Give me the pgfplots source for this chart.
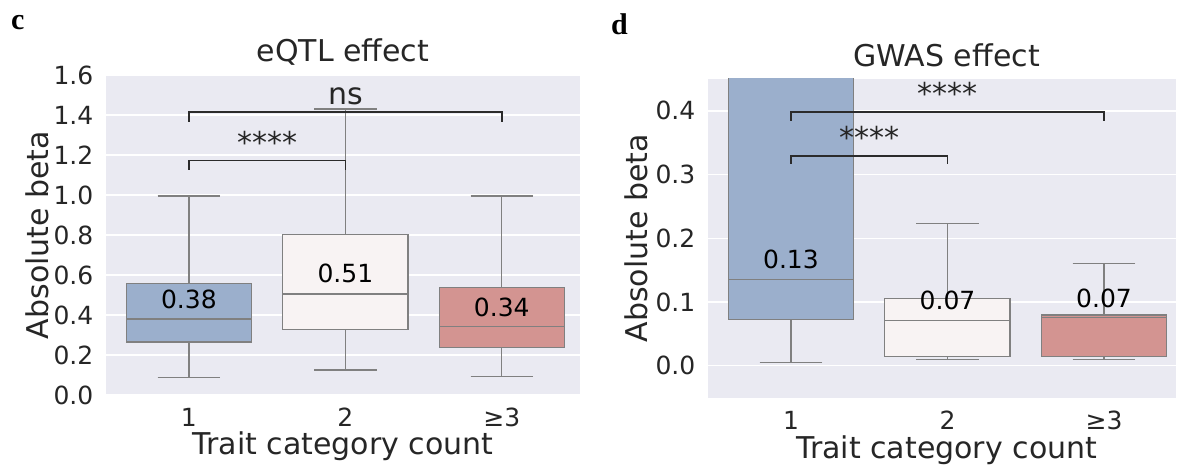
\documentclass[border=0pt]{standalone}
\usepackage{fontspec}
\setmainfont{DejaVu Sans}
\newfontfamily\serifbold{Liberation Serif}
\usepackage{pgfplots}
\usepgfplotslibrary{statistics}
\pgfplotsset{compat=1.18}
\definecolor{bg}{HTML}{EAEAF2}
\definecolor{txt}{HTML}{262626}
\definecolor{bline}{HTML}{808080}
\definecolor{brk}{HTML}{2B2B2B}
\definecolor{cblue}{HTML}{9BAFCC}
\definecolor{cwhite}{HTML}{F8F3F3}
\definecolor{cred}{HTML}{D39491}
\tikzset{
  numlab/.style={font=\fontsize{25}{29}\selectfont, text=black, anchor=center, inner sep=0pt},
  starlab/.style={font=\fontsize{30}{34}\selectfont, text=txt, anchor=base, inner sep=0pt},
}
\pgfplotsset{
  sbstyle/.style={
    scale only axis, anchor=south west,
    axis background/.style={fill=bg},
    axis line style={draw=none},
    major tick length=0pt,
    ymajorgrids, grid style={white, line width=1.3pt},
    xmin=-0.53,
    xtick={0,1,2}, xticklabels={1,2,≥3},
    tick label style={font=\fontsize{25}{29}\selectfont, text=txt},
    yticklabel style={anchor=east, inner sep=0pt, xshift=-12.5pt,
      /pgf/number format/.cd, assume math mode=true, fixed, fixed zerofill, precision=1},
    xticklabel style={anchor=north, inner sep=0pt, text height=18.2pt, yshift=-13pt},
    title style={font=\fontsize{30}{34}\selectfont, text=txt, anchor=base, yshift=7pt},
    label style={font=\fontsize{30}{34}\selectfont, text=txt},
    xlabel={Trait category count},
    ylabel={Absolute beta},
    boxplot/draw direction=y,
  },
  bx/.style={draw=bline, line width=1.2pt, solid},
  bracket/.style={draw=brk, line width=1.6pt, mark=none},
}
\begin{document}
\begin{tikzpicture}
\useasboundingbox (0,0) rectangle (1178pt,465pt);
\node[anchor=base west, inner sep=0pt, font=\serifbold\bfseries\fontsize{30}{34}\selectfont] at (11pt,435.7pt) {c};
\node[anchor=base west, inner sep=0pt, font=\serifbold\bfseries\fontsize{30}{34}\selectfont] at (611pt,430pt) {d};
% ---------------- left panel ----------------
\begin{axis}[sbstyle,
  at={(106pt,70pt)}, width=474pt, height=320pt,
  xmax=2.5, ymin=0, ymax=1.6,
  ytick={0,0.2,0.4,0.6,0.8,1.0,1.2,1.4,1.6},
  title={eQTL effect},
  title style={at={(axis description cs:0.5,1)}},
  xlabel style={at={(axis description cs:0.5,-0.1875)}, anchor=base},
  ylabel style={at={(axis description cs:-0.1456,0.5)}, anchor=center},
]
\addplot[bx, fill=cblue, boxplot prepared={draw direction=y, lower whisker=0.088, lower quartile=0.265, median=0.38, upper quartile=0.5565, upper whisker=0.995, draw position=0, box extend=0.8, whisker extend=0.4}] coordinates {};
\addplot[bx, fill=cwhite, boxplot prepared={draw direction=y, lower whisker=0.125, lower quartile=0.3265, median=0.505, upper quartile=0.8015, upper whisker=1.43, draw position=1, box extend=0.8, whisker extend=0.4}] coordinates {};
\addplot[bx, fill=cred, boxplot prepared={draw direction=y, lower whisker=0.0915, lower quartile=0.2365, median=0.343, upper quartile=0.538, upper whisker=0.995, draw position=2, box extend=0.8, whisker extend=0.4}] coordinates {};
\addplot[bracket] coordinates {(0,1.1265) (0,1.173) (1,1.173) (1,1.1265)};
\addplot[bracket] coordinates {(0,1.365) (0,1.415) (2,1.415) (2,1.365)};
\node[starlab] at (axis cs:0.5,1.208) {****};
\node[starlab] at (axis cs:1,1.45) {ns};
\node[numlab] at (axis cs:0,0.48) {0.38};
\node[numlab] at (axis cs:1,0.607) {0.51};
\node[numlab] at (axis cs:2,0.44) {0.34};
\end{axis}
% ---------------- right panel ----------------
\begin{axis}[sbstyle,
  at={(708pt,67.3pt)}, width=468pt, height=318.7pt,
  xmax=2.46, ymin=-0.05, ymax=0.45,
  ytick={0,0.1,0.2,0.3,0.4},
  title={GWAS effect},
  title style={at={(axis description cs:0.51,1)}, yshift=-0.7pt},
  xlabel style={at={(axis description cs:0.51,-0.19)}, anchor=base},
  ylabel style={at={(axis description cs:-0.1538,0.5)}, anchor=center},
]
\addplot[bx, fill=cblue, boxplot prepared={draw direction=y, lower whisker=0.0053, lower quartile=0.0731, median=0.1357, upper quartile=0.52, upper whisker=1.1, draw position=0, box extend=0.8, whisker extend=0.4}] coordinates {};
\addplot[bx, fill=cwhite, boxplot prepared={draw direction=y, lower whisker=0.0105, lower quartile=0.0141, median=0.0715, upper quartile=0.1055, upper whisker=0.2233, draw position=1, box extend=0.8, whisker extend=0.4}] coordinates {};
\addplot[bx, fill=cred, boxplot prepared={draw direction=y, lower whisker=0.0105, lower quartile=0.0141, median=0.0757, upper quartile=0.0798, upper whisker=0.1607, draw position=2, box extend=0.8, whisker extend=0.4}] coordinates {};
\addplot[bracket] coordinates {(0,0.3167) (0,0.3296) (1,0.3296) (1,0.3167)};
\addplot[bracket] coordinates {(0,0.3844) (0,0.3985) (2,0.3985) (2,0.3844)};
\node[starlab] at (axis cs:0.5,0.3406) {****};
\node[starlab] at (axis cs:1,0.4095) {****};
\node[numlab] at (axis cs:0,0.1663) {0.13};
\node[numlab] at (axis cs:1,0.1025) {0.07};
\node[numlab] at (axis cs:2,0.1056) {0.07};
\end{axis}
\end{tikzpicture}
\end{document}
